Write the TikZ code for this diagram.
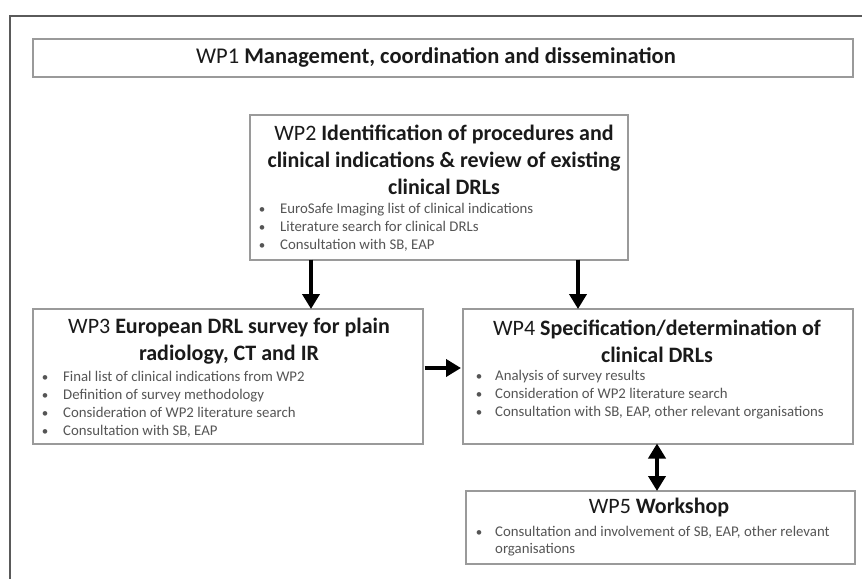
\documentclass[tikz,border=0pt]{standalone}
\usepackage{fontspec}
\setmainfont{Carlito}
\usetikzlibrary{arrows.meta}
\definecolor{framegray}{HTML}{5A5A5A}
\definecolor{boxgray}{HTML}{9A9A9A}
\definecolor{textgray}{HTML}{555555}
\definecolor{titleblack}{HTML}{1A1A1A}
\tikzset{
  wpbox/.style={draw=boxgray, line width=1.5pt, fill=none, anchor=north west, inner sep=0pt},
  title/.style={align=center, inner sep=0pt, text=titleblack, font=\fontsize{22}{27}\selectfont},
  bullettext/.style={anchor=base west, inner sep=0pt, text=textgray, font=\fontsize{14.8}{18}\selectfont},
  bulletdot/.style={anchor=base, inner sep=0pt, text=textgray, font=\fontsize{13}{18}\selectfont},
  bigarrow/.style={line width=4.5pt, -{Triangle[width=17pt,length=15pt]}},
  bigdarrow/.style={line width=4.5pt, {Triangle[width=17pt,length=15pt]}-{Triangle[width=17pt,length=15pt]}},
}
\begin{document}
\begin{tikzpicture}[x=1pt,y=-1pt]
\useasboundingbox (0,0) rectangle (862,579);
\fill[white] (0,0) rectangle (862,579);
% outer frame
\draw[framegray, line width=2pt] (862,16) -- (10,16) -- (10,579);
% boxes
\node[wpbox, minimum width=820pt, minimum height=38pt] (wp1) at (32,38) {};
\node[wpbox, minimum width=378pt, minimum height=145pt] (wp2) at (249,114) {};
\node[wpbox, minimum width=390pt, minimum height=135pt] (wp3) at (32,308) {};
\node[wpbox, minimum width=390pt, minimum height=135pt] (wp4) at (462,308) {};
\node[wpbox, minimum width=389pt, minimum height=73pt] (wp5) at (465,490) {};
% titles
\node[title, font=\fontsize{22.5}{27}\selectfont] (t1) at (436,57) {WP1 \textbf{Management, coordination and dissemination}};
\node[title] (t2) at (444,160) {WP2 \textbf{Identification of procedures and}\\\textbf{clinical indications \& review of existing}\\\textbf{clinical DRLs}};
\node[title] (t3) at (229,341) {WP3 \textbf{European DRL survey for plain}\\\textbf{radiology, CT and IR}};
\node[title] (t4) at (657,341) {WP4 \textbf{Specification/determination of}\\\textbf{clinical DRLs}};
\node[title] (t5) at (659,508) {WP5 \textbf{Workshop}};
% WP2 bullets
\foreach \y/\txt [count=\i] in {213/EuroSafe Imaging list of clinical indications,231/Literature search for clinical DRLs,249/{Consultation with SB, EAP}}{
  \node[bulletdot] (b2d\i) at (262,\y) {\textbullet};
  \node[bullettext] (b2t\i) at (280,\y) {\txt};
}
% WP3 bullets
\foreach \y/\txt [count=\i] in {381/Final list of clinical indications from WP2,399/Definition of survey methodology,417/Consideration of WP2 literature search,435/{Consultation with SB, EAP}}{
  \node[bulletdot] (b3d\i) at (45,\y) {\textbullet};
  \node[bullettext] (b3t\i) at (63,\y) {\txt};
}
% WP4 bullets
\foreach \y/\txt [count=\i] in {380/Analysis of survey results,398/Consideration of WP2 literature search,416/{Consultation with SB, EAP, other relevant organisations}}{
  \node[bulletdot] (b4d\i) at (479,\y) {\textbullet};
  \node[bullettext] (b4t\i) at (495,\y) {\txt};
}
% WP5 bullets
\node[bulletdot] (b5d1) at (479,536) {\textbullet};
\node[bullettext] (b5t1) at (495,536) {Consultation and involvement of SB, EAP, other relevant};
\node[bullettext] (b5t2) at (495,553) {organisations};
% arrows
\coordinate (ax1) at (311,0);
\coordinate (ax2) at (578,0);
\coordinate (ay3) at (0,368);
\coordinate (ax5) at (657,0);
\draw[bigarrow] ([yshift=1pt]wp2.south -| ax1) -- ([yshift=-1pt]wp3.north -| ax1);
\draw[bigarrow] ([yshift=1pt]wp2.south -| ax2) -- ([yshift=-1pt]wp4.north -| ax2);
\draw[bigarrow] ([xshift=1pt]wp3.east |- ay3) -- ([xshift=-1pt]wp4.west |- ay3);
\draw[bigdarrow] ([yshift=1pt]wp4.south -| ax5) -- ([yshift=-1pt]wp5.north -| ax5);
\end{tikzpicture}
\end{document}
